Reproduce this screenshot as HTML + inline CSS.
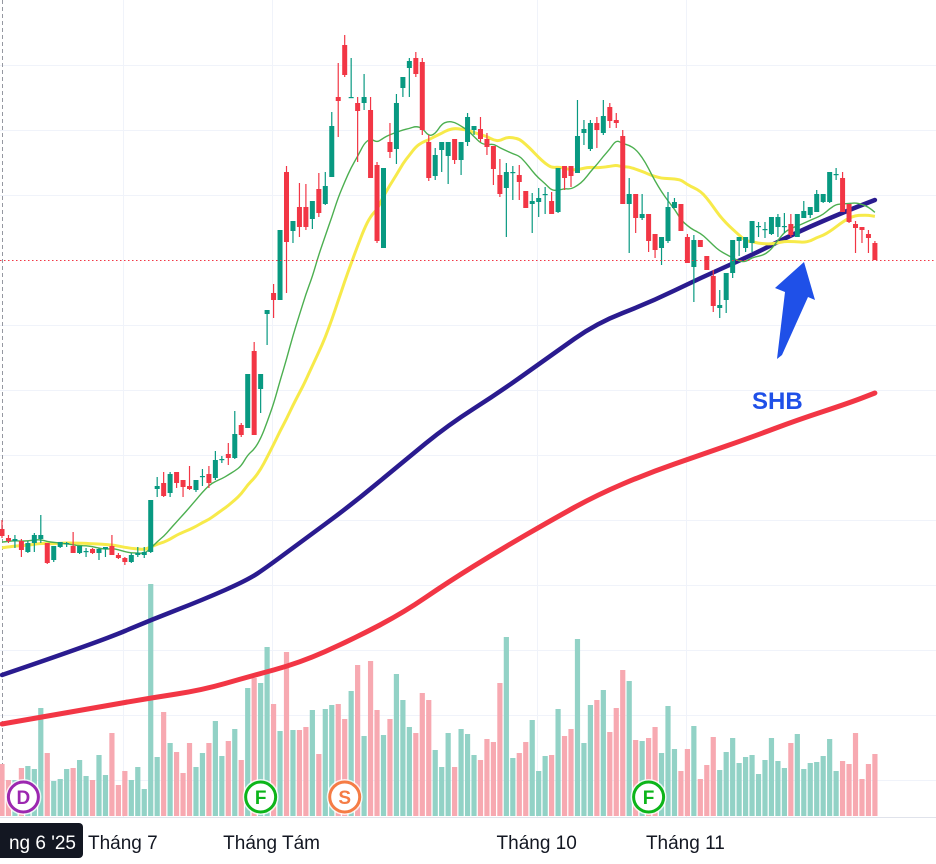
<!DOCTYPE html>
<html><head><meta charset="utf-8">
<style>
html,body{margin:0;padding:0;background:#fff;}
body{width:936px;height:864px;overflow:hidden;font-family:"Liberation Sans",sans-serif;}
svg{display:block;}
</style></head>
<body>
<svg id="chart" width="936" height="864" viewBox="0 0 936 864" xmlns="http://www.w3.org/2000/svg">
  <g id="grid"></g>
  <g id="vol"></g>
  <g id="ma"></g>
  <g id="candles"></g>
  <line x1="0" y1="260.5" x2="936" y2="260.5" stroke="#f23645" stroke-width="1" stroke-dasharray="1.5,2.5"/>
  <polygon points="804,262 815,300 808,297 782,355 777,359 785,292 775,288" fill="#1f50e8"/>
  <text x="752" y="409" font-family="Liberation Sans, sans-serif" font-weight="bold" font-size="24" fill="#1f50e8">SHB</text>
  <g id="badges"></g>
  <line x1="0" y1="817.5" x2="936" y2="817.5" stroke="#e0e3eb" stroke-width="1"/>
  <g id="xaxis"></g>
</svg>
<script>
// ---- data ----
const opens  = [37.1,36.2,35.9,35.9,34.8,35.7,36.1,35.7,34.0,35.3,35.6,35.4,34.7,34.8,35.1,34.7,35.1,35.4,34.5,34.2,33.8,34.5,34.5,34.8,41.1,41.7,40.7,42.8,42.0,41.4,41.0,42.3,42.6,42.2,44.0,44.6,44.2,47.5,47.2,54.9,51.1,58.6,60.7,60.0,72.8,66.9,69.3,69.3,68.1,71.1,69.6,72.3,80.3,85.5,80.3,79.7,79.7,79.0,73.5,65.2,75.8,75.1,81.2,83.2,84.2,83.8,75.8,72.4,75.0,74.4,76.1,74.0,75.8,77.0,77.1,76.1,75.4,72.5,71.2,72.8,72.5,70.9,69.6,69.8,70.6,69.9,68.8,73.4,73.4,72.7,76.7,75.1,77.7,76.7,79.3,78.0,76.4,69.6,70.6,68.2,68.6,66.6,65.2,65.9,69.2,69.6,66.3,63.3,66.0,64.4,62.4,59.2,60.0,62.7,65.9,65.2,65.7,67.3,67.0,66.6,67.3,67.3,67.6,66.3,68.2,68.5,68.8,69.8,69.8,72.5,72.2,69.6,67.6,67.3,66.6,65.7];
const highs  = [38.0,36.5,36.5,36.1,35.9,36.7,38.5,35.7,35.4,35.8,35.8,36.8,35.4,35.2,35.2,35.2,35.3,36.5,34.7,34.3,34.7,35.3,35.3,40.0,42.3,42.8,42.8,42.8,42.0,43.4,42.0,43.1,43.4,44.9,44.4,45.7,48.9,47.7,52.6,55.8,52.6,59.0,61.6,67.0,73.4,67.9,71.7,71.6,69.9,72.7,72.8,78.8,83.7,86.5,84.2,80.3,82.6,80.3,73.8,73.2,77.7,80.6,82.3,84.2,84.8,84.2,76.5,75.2,75.8,75.8,76.1,75.8,78.7,77.4,78.3,76.7,75.4,74.1,73.7,73.4,73.5,70.9,70.7,71.2,71.3,70.8,73.2,73.4,73.4,80.0,78.0,78.0,78.3,80.0,79.7,78.7,77.0,72.2,70.6,70.6,68.6,66.6,66.3,70.8,70.2,69.6,66.6,66.5,66.0,64.4,63.0,61.0,62.7,66.0,66.3,66.3,67.9,67.8,67.8,68.3,68.6,68.7,68.6,68.6,69.9,69.3,71.0,70.6,72.8,73.2,72.8,69.6,67.9,67.3,67.0,65.9];
const lows   = [36.2,35.7,35.2,34.3,34.7,34.8,35.7,33.6,33.8,35.2,35.3,34.7,34.6,34.3,34.6,34.0,34.3,34.5,34.1,33.5,33.7,34.3,34.2,34.7,40.3,40.3,40.3,41.2,40.3,41.0,40.8,41.4,41.2,42.0,43.7,43.5,44.1,46.3,47.2,46.5,48.7,55.5,58.2,60.0,60.7,65.7,66.3,67.0,67.1,68.3,69.5,72.3,76.3,82.3,80.2,73.8,79.0,72.2,65.7,65.2,74.2,73.6,80.3,80.3,82.3,76.5,71.9,72.0,72.8,71.6,73.6,72.5,75.4,76.5,75.8,74.5,71.5,70.3,66.3,70.0,70.0,69.2,66.7,68.3,68.6,68.6,68.7,71.0,71.3,72.7,75.5,74.9,75.2,76.5,77.2,77.2,69.6,64.7,66.7,68.0,64.8,64.2,63.5,65.7,69.2,66.9,63.7,59.8,65.3,63.0,58.8,58.2,58.7,62.2,64.4,64.8,64.8,66.3,66.2,66.5,66.3,66.7,66.3,66.3,68.2,68.2,68.8,69.7,69.7,72.0,68.8,67.7,64.7,65.7,64.7,64.0];
const closes = [36.4,35.9,36.1,35.0,35.7,36.5,36.5,33.7,35.4,35.8,35.7,34.7,35.4,34.9,34.7,35.1,35.3,34.5,34.2,33.8,34.5,34.7,34.8,40.0,41.4,40.4,42.6,41.7,41.3,41.1,42.0,42.4,41.7,44.0,44.1,44.2,46.6,46.5,52.6,46.5,52.6,59.0,60.0,67.0,65.8,67.9,67.3,67.3,69.9,68.7,71.4,77.4,79.9,82.5,80.3,78.9,80.3,72.2,65.9,73.2,74.8,79.7,82.3,83.9,82.6,77.0,72.2,74.5,75.8,75.8,74.0,75.8,78.3,77.4,76.1,75.3,73.1,70.6,72.8,72.8,71.8,69.2,69.9,70.2,70.6,68.6,73.2,72.2,72.4,76.4,77.1,77.7,77.0,78.4,77.9,77.7,69.6,70.6,68.2,68.6,65.9,65.0,66.3,69.3,69.8,66.9,63.7,66.0,65.3,63.0,59.4,59.5,62.7,66.0,66.3,66.3,67.9,67.4,67.1,68.3,68.3,67.4,66.5,68.6,68.9,69.3,70.6,70.6,72.8,72.6,68.8,67.8,67.2,67.0,66.2,64.0];
const volumes = [52,36,36,48,50,47,108,63,35,37,47,48,56,40,36,61,41,83,31,45,36,49,27,232,59,104,73,64,43,73,49,63,73,95,60,75,87,56,128,138,133,169,112,85,164,86,86,89,106,62,107,111,112,97,125,151,80,155,106,81,97,142,116,89,83,123,116,66,49,83,49,87,82,61,56,77,74,133,179,58,63,74,96,45,60,61,107,80,87,177,73,111,116,126,84,108,146,135,76,75,78,89,63,110,67,45,67,90,37,51,79,46,64,78,53,59,61,42,56,78,55,48,73,82,47,53,54,60,77,45,55,52,83,37,52,62];
const prevCloses = [34.2,34.4,34.3,34.6,34.8,34.5,34.7,35.0,35.2,34.9,35.1,35.4,35.6,35.3,35.8,36.0,35.7,36.2,36.4];
const ma100Idx = [0,15,23,31,38,41,46,54,62,69,77,85,92,100,108,116,123,131,135];
const ma100Val = [22.5,25.8,28.0,30.0,32.0,33.3,35.7,39.5,43.8,47.5,50.8,54.5,57.7,59.7,62.2,64.5,66.8,69.0,70.0];
const ma200Idx = [0,15,23,31,38,46,54,62,69,77,85,92,100,108,116,123,131,135];
const ma200Val = [17.6,19.3,20.2,21.0,22.3,23.7,26.0,28.7,31.8,35.0,38.0,40.5,42.7,44.5,46.3,48.0,49.7,50.7];
const xTickLabels = ["Tháng 7","Tháng Tám","Tháng 10","Tháng 11"];
const xTickIdx = [19,42,83,106];
const badgeLetters = ["D","F","S","F"];
const badgeIdx = [3,40,53,100];

// ---- scales ----
const NS = "http://www.w3.org/2000/svg";
function xS(i){ return 2 + i*6.466; }
function yS(p){ return 900 - p*10; }
function vS(v){ return 816 - v; }
function mk(tag, attrs, parent){
  const e = document.createElementNS(NS, tag);
  for (const k in attrs) e.setAttribute(k, attrs[k]);
  parent.appendChild(e); return e;
}
const GREEN="#089981", RED="#f23645";

// grid
const grid = document.getElementById('grid');
for (let y=65; y<=780; y+=65){
  if (y===260) continue;
  const l = mk('line',{x1:0,y1:y+0.5,x2:936,y2:y+0.5,stroke:'#f0f3fa','stroke-width':1},grid);
  
  
}
xTickIdx.forEach(i=>{
  const x = Math.round(xS(i)+0.5)+0.5 - 2;
  const l = mk('line',{x1:x,y1:0,x2:x,y2:817,stroke:'#f0f3fa','stroke-width':1},grid);
  
  
});
const dl = mk('line',{x1:2.5,y1:0,x2:2.5,y2:817,stroke:'#9598a1','stroke-width':1,'stroke-dasharray':'4,3'},grid);



// volume
const vol = document.getElementById('vol');
volumes.forEach((v,i)=>{
  const up = closes[i] >= opens[i];
  const r = mk('rect',{x:xS(i)-2.6,y:vS(v),width:5.2,height:v,fill:up?'#92d2c6':'#f7a9b1'},vol);
  
  
});

// moving averages
function smaArr(n){
  const all = prevCloses.concat(closes), off = prevCloses.length, out=[];
  for (let i=0;i<closes.length;i++){
    const j=i+off; const s=Math.max(0,j-n+1); let sum=0;
    for(let k=s;k<=j;k++) sum+=all[k];
    out.push(sum/(j-s+1));
  }
  return out;
}
function smoothPath(pts){
  let d = 'M'+pts[0][0].toFixed(1)+','+pts[0][1].toFixed(1);
  for (let i=1;i<pts.length-1;i++){
    const mx=(pts[i][0]+pts[i+1][0])/2, my=(pts[i][1]+pts[i+1][1])/2;
    d += ' Q'+pts[i][0].toFixed(1)+','+pts[i][1].toFixed(1)+' '+mx.toFixed(1)+','+my.toFixed(1);
  }
  const L=pts[pts.length-1]; d+=' L'+L[0].toFixed(1)+','+L[1].toFixed(1);
  return d;
}
const ma = document.getElementById('ma');
const p200 = mk('path',{d:smoothPath(ma200Idx.map((k,j)=>[xS(k),yS(ma200Val[j])])),fill:'none',stroke:'#f23645','stroke-width':5,'stroke-linecap':'round'},ma);


const p100 = mk('path',{d:smoothPath(ma100Idx.map((k,j)=>[xS(k),yS(ma100Val[j])])),fill:'none',stroke:'#2a1b8f','stroke-width':4.5,'stroke-linecap':'round'},ma);


const m20 = smaArr(20), m10 = smaArr(10);
const p20 = mk('path',{d:smoothPath(m20.map((v,i)=>[xS(i),yS(v)])),fill:'none',stroke:'#f7ea4a','stroke-width':3,'stroke-linejoin':'round'},ma);


const p10 = mk('path',{d:smoothPath(m10.map((v,i)=>[xS(i),yS(v)])),fill:'none',stroke:'#4caf50','stroke-width':1.4,'stroke-linejoin':'round'},ma);



// candles
const cg = document.getElementById('candles');
closes.forEach((c,i)=>{
  const o=opens[i], up=c>=o, col=up?GREEN:RED, x=xS(i);
  const w = mk('line',{x1:x,y1:yS(highs[i]),x2:x,y2:yS(lows[i]),stroke:col,'stroke-width':1.2},cg);
  
  
  const top=yS(Math.max(o,c)), h=Math.max(1.2,Math.abs(yS(o)-yS(c)));
  const b = mk('rect',{x:x-2.5,y:top,width:5,height:h,fill:col},cg);
  
  
});

// badges
const colorsB = {D:'#9c27b0',F:'#0cb51a',S:'#f57c45'};
const bg = document.getElementById('badges');
badgeLetters.forEach((t,j)=>{
  const cx = xS(badgeIdx[j]) + (t==='D'?2:0), cy=797;
  const g = mk('g',{},bg);
  
  
  mk('circle',{cx:cx,cy:cy,r:18,fill:'#ffffff',opacity:0.8},g);
  mk('circle',{cx:cx,cy:cy,r:15,fill:'#ffffff',stroke:colorsB[t],'stroke-width':3},g);
  const tx = mk('text',{x:cx,y:cy+7,'text-anchor':'middle','font-size':19,'font-weight':'bold','font-family':'Liberation Sans, sans-serif',fill:colorsB[t]},g);
  tx.textContent = t;
});

// x axis
const xa = document.getElementById('xaxis');
const cur = mk('rect',{x:-6,y:823,width:89,height:35,rx:4,fill:'#131722'},xa);


const ct = mk('text',{x:76,y:849,'text-anchor':'end','font-size':19,'font-family':'Liberation Sans, sans-serif',fill:'#ffffff'},xa);


ct.textContent = "ng 6 '25";
xTickLabels.forEach((s,j)=>{
  const t = mk('text',{x:xS(xTickIdx[j])-2,y:849,'text-anchor':'middle','font-size':19,'font-family':'Liberation Sans, sans-serif',fill:'#131722'},xa);
  
  
  t.textContent = s;
});
</script>
</body></html>
